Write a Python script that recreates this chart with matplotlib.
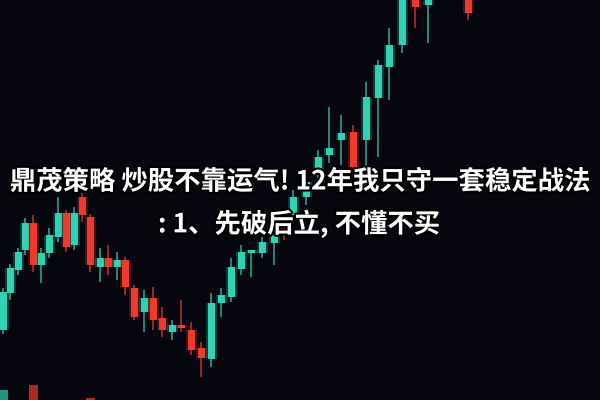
import matplotlib
matplotlib.use("Agg")
import matplotlib.pyplot as plt
import matplotlib.patheffects as pe
import numpy as np

plt.rcParams['font.family'] = ['Noto Sans CJK SC', 'DejaVu Sans']

# candle positions and OHLC values (price axis, 0..400)
xs = [3, 10, 18, 25, 33, 41, 49, 58, 66, 74, 82, 90, 100, 108, 117, 125, 134,
      144, 153, 162, 172, 181, 191, 201, 211, 221, 231, 241, 251, 262, 274, 284,
      293, 306, 318, 329, 341, 353, 366, 378, 389, 402, 415, 428, 468]
opens = [70, 107, 130, 150, 177, 135, 147, 163, 187, 155, 203, 183, 133, 142, 133,
         140, 112, 88, 102, 82, 68, 75, 70, 52, 41, 97, 103, 131, 147, 147, 157,
         172, 185, 203, 228, 245, 260, 268, 260, 302, 333, 355, 415, 395, 420]
closes = [108, 132, 148, 177, 135, 147, 165, 187, 153, 187, 185, 135, 142, 133, 140,
          113, 83, 102, 80, 70, 75, 72, 50, 42, 97, 105, 133, 148, 150, 158, 172,
          165, 203, 218, 243, 252, 267, 233, 303, 335, 355, 410, 393, 410, 387]
highs = [112, 136, 152, 182, 185, 152, 172, 203, 190, 193, 207, 186, 152, 155, 148,
         143, 115, 110, 113, 93, 80, 100, 78, 58, 107, 112, 142, 155, 150, 163, 178,
         175, 210, 225, 250, 293, 285, 275, 318, 340, 372, 420, 420, 420, 425]
lows = [66, 100, 125, 145, 128, 117, 142, 158, 148, 150, 178, 128, 118, 125, 120,
        105, 80, 68, 70, 63, 60, 68, 45, 23, 33, 83, 98, 125, 123, 142, 135,
        160, 180, 195, 222, 237, 235, 225, 233, 243, 300, 347, 372, 357, 380]

# lower pane bars peeking in at the bottom
vol_x = [3, 33, 90]
vol_h = [15, 20, 7]
vol_up = [True, False, False]

UP = '#2fd3b4'
DOWN = '#ee3a2e'

fig = plt.figure(figsize=(6, 4), dpi=100)
fig.patch.set_facecolor('#05060e')
ax = fig.add_axes([0, 0, 1, 1])
ax.set_facecolor('#05060e')
ax.set_xlim(0, 600)
ax.set_ylim(0, 400)
ax.axis('off')

bw = 7
for x, o, c, h, l in zip(xs, opens, closes, highs, lows):
    col = UP if c >= o else DOWN
    lo, hi = min(o, c), max(o, c)
    ax.vlines(x, l, h, color=col, linewidth=1.4, alpha=0.65)
    # soft glow around the body
    ax.bar(x, hi - lo, bottom=lo, width=bw + 4, color=col, alpha=0.25, linewidth=0)
    ax.bar(x, hi - lo, bottom=lo, width=bw, color=col, linewidth=0)

for x, hgt, up in zip(vol_x, vol_h, vol_up):
    col = UP if up else DOWN
    ax.bar(x, hgt, bottom=-5, width=bw + 2, color=col, alpha=0.7, linewidth=0)

line1 = '鼎茂策略 炒股不靠运气! 12年我只守一套稳定战法'
line2 = ': 1、先破后立, 不懂不买'
stroke = [pe.withStroke(linewidth=3, foreground='black')]
ax.text(300, 218, line1, color='white', fontsize=19, fontweight='bold',
        ha='center', va='center', path_effects=stroke)
ax.text(299, 176, line2, color='white', fontsize=19, fontweight='bold',
        ha='center', va='center', path_effects=stroke)

fig.savefig('out.png', dpi=100, facecolor=fig.get_facecolor())
